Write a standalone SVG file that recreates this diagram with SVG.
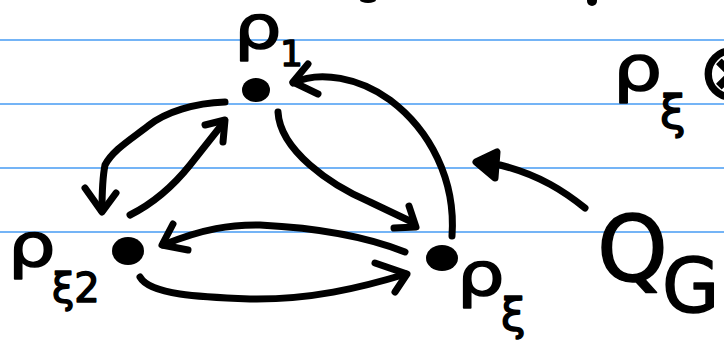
<svg xmlns="http://www.w3.org/2000/svg" width="724" height="343" viewBox="0 0 724 343">
<style>
.rule{stroke:#74b4f6;stroke-width:2;fill:none}
.ink{stroke:#000;stroke-width:7;fill:none;stroke-linecap:round;stroke-linejoin:round}
.head{stroke:#000;stroke-width:7;fill:#000;stroke-linejoin:round}
.dot{fill:#000}
.lbl{font-family:"DejaVu Sans",sans-serif;fill:#000;stroke:#000;stroke-width:1.5;stroke-linejoin:round}
</style>
<rect width="724" height="343" fill="#fff"/>
<g id="rules">
<line class="rule" x1="0" y1="40" x2="724" y2="40"/>
<line class="rule" x1="0" y1="104" x2="724" y2="104"/>
<line class="rule" x1="0" y1="168" x2="724" y2="168"/>
<line class="rule" x1="0" y1="232" x2="724" y2="232"/>
</g>
<g id="top-marks">
<ellipse cx="368" cy="0" rx="8" ry="3" class="dot"/>
<ellipse cx="592" cy="1" rx="5" ry="5" class="dot"/>
</g>
<g id="connectors">
<path class="ink" d="M452,236 C456,180 430,130 390,100 C360,78 320,70 293,83"/>
<path class="ink" d="M308,64 L293,82 L318,94"/>
<path class="ink" d="M278,112 C280,150 330,185 370,202 L412,222"/>
<path class="ink" d="M409,206 L416,227 L394,228"/>
<path class="ink" d="M225,102 C195,103 165,112 148,126 C130,140 113,150 105,165 C102,180 102,200 102,211"/>
<path class="ink" d="M85,188 L102,212 L116,193"/>
<path class="ink" d="M130,215 C150,205 170,190 190,165 L224,122"/>
<path class="ink" d="M205,125 L225,120 L223,142"/>
<path class="ink" d="M405,252 C370,238 320,228 260,225 C230,225 205,228 163,245"/>
<path class="ink" d="M173,224 L162,245 L188,250"/>
<path class="ink" d="M140,277 C150,295 200,297 250,299 C310,300 360,288 406,274"/>
<path class="ink" d="M375,263 L407,274 L395,292"/>
<path class="ink" d="M585,208 C565,192 540,175 500,165"/>
<path class="head" d="M476,162 L497,152 L495,178 Z"/>
</g>
<g id="node-rho1">
<ellipse class="dot" cx="256" cy="90" rx="14" ry="12"/>
<text class="lbl" font-size="60" transform="translate(234,48) scale(1.25,1)">ρ</text>
<text class="lbl" x="280" y="66" font-size="36">1</text>
</g>
<g id="node-rho-xi2">
<ellipse class="dot" cx="128" cy="251" rx="16" ry="14"/>
<text class="lbl" font-size="60" transform="translate(8,266) scale(1.25,1)">ρ</text>
<text class="lbl" x="52" y="302" font-size="40">ξ2</text>
</g>
<g id="node-rho-xi">
<ellipse class="dot" cx="442" cy="258" rx="16" ry="13"/>
<text class="lbl" font-size="60" transform="translate(457,295) scale(1.25,1)">ρ</text>
<text class="lbl" x="501" y="330" font-size="44">ξ</text>
</g>
<g id="label-rho-xi-otimes">
<text class="lbl" font-size="62" transform="translate(613,90) scale(1.25,1)">ρ</text>
<text class="lbl" x="660" y="128" font-size="46">ξ</text>
<text class="lbl" x="698" y="99" font-size="80">⊗</text>
</g>
<g id="node-QG">
<text class="lbl" x="597" y="281" font-size="90">Q</text>
<text class="lbl" x="662" y="312" font-size="74">G</text>
</g>
</svg>
